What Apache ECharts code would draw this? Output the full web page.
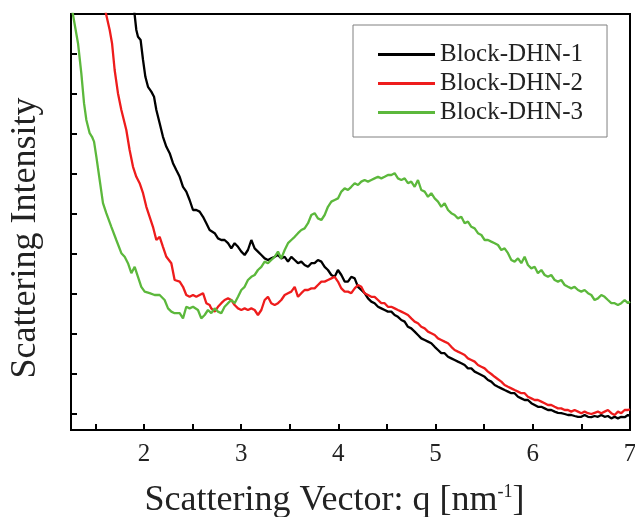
<!DOCTYPE html>
<html>
<head>
<meta charset="utf-8">
<script src="https://cdn.jsdelivr.net/npm/echarts@6/dist/echarts.min.js"></script>
<style>
  html, body { margin: 0; padding: 0; background: #fff; }
  #chart { width: 635px; height: 517px; }
</style>
</head>
<body>
<div id="chart"></div>
<script>
// Scattering vector q (nm^-1) sample positions shared by the three profiles
const qMid1 = [2.693, 2.728, 2.762, 2.796, 2.830, 2.865, 2.899, 2.933, 2.968, 3.002,
  3.036, 3.070, 3.105, 3.139, 3.173, 3.208, 3.242, 3.276, 3.310, 3.345,
  3.379, 3.413, 3.448, 3.482, 3.516, 3.551, 3.585, 3.619, 3.653, 3.688,
  3.722, 3.756, 3.790, 3.825, 3.859, 3.893, 3.928, 3.962, 3.996, 4.031, 4.065];
const qMid2 = [4.099, 4.133, 4.168, 4.202, 4.236, 4.270, 4.305, 4.339, 4.373, 4.408,
  4.442, 4.476, 4.510, 4.545, 4.579, 4.613, 4.648, 4.682, 4.716, 4.750,
  4.785, 4.819, 4.853, 4.888, 4.922, 4.956, 4.991, 5.025, 5.059, 5.093,
  5.128, 5.162, 5.196, 5.230, 5.265, 5.299, 5.333, 5.368, 5.402, 5.436, 5.471, 5.505];
const qTail = [5.539, 5.573, 5.608, 5.642, 5.676, 5.710, 5.745, 5.779, 5.813, 5.848,
  5.882, 5.916, 5.950, 5.985, 6.019, 6.053, 6.088, 6.122, 6.156, 6.190,
  6.225, 6.259, 6.293, 6.328, 6.362, 6.396, 6.430, 6.465, 6.499, 6.533,
  6.568, 6.602, 6.636, 6.670, 6.705, 6.739, 6.773, 6.808, 6.842, 6.876,
  6.910, 6.945, 6.979, 7.0];

// Block-DHN-1
const qHead1 = [1.895, 1.905, 1.922, 1.939, 1.966, 1.991, 2.015, 2.042, 2.076, 2.104,
  2.128, 2.162, 2.196, 2.231, 2.265, 2.299, 2.333, 2.368, 2.402, 2.436,
  2.470, 2.505, 2.539, 2.573, 2.608, 2.642, 2.676];
const iHead1 = [10.2, 9.975, 9.60, 9.43, 9.35, 8.85, 8.43, 8.18, 8.06, 7.93,
  7.60, 7.27, 6.93, 6.68, 6.52, 6.27, 6.10, 5.93, 5.68, 5.56,
  5.35, 5.10, 5.10, 5.06, 4.93, 4.77, 4.60];
const iMid1a = [4.58, 4.52, 4.39, 4.35, 4.35, 4.27, 4.14, 4.27, 4.18, 4.06,
  3.975, 4.10, 4.35, 4.14, 4.06, 3.975, 3.89, 3.85, 3.89, 3.93,
  3.975, 3.89, 3.93, 3.81, 3.93, 3.85, 3.77, 3.81, 3.725, 3.68,
  3.77, 3.77, 3.85, 3.81, 3.68, 3.60, 3.475, 3.43, 3.60, 3.475, 3.31];
const iMid2a = [3.31, 3.43, 3.39, 3.18, 3.10, 3.02, 2.89, 2.81, 2.77, 2.68,
  2.64, 2.60, 2.56, 2.56, 2.475, 2.43, 2.35, 2.31, 2.18, 2.14,
  2.06, 1.975, 1.89, 1.85, 1.81, 1.77, 1.68, 1.60, 1.52, 1.52,
  1.43, 1.39, 1.35, 1.31, 1.27, 1.225, 1.14, 1.14, 1.06, 1.02, 0.975, 0.93];
const iTailA = [0.85, 0.81, 0.725, 0.68, 0.64, 0.60, 0.56, 0.52, 0.52, 0.43,
  0.39, 0.35, 0.35, 0.27, 0.225, 0.18, 0.18, 0.14, 0.10, 0.10,
  0.06, 0.03, 0.02, 0, -0.025, -0.025, -0.05, -0.07, -0.07, -0.025,
  -0.07, -0.08, -0.05, -0.07, -0.025, -0.07, -0.05, -0.11, -0.07, -0.11,
  -0.07, -0.08, -0.025, -0.05];

// Block-DHN-2
const qHead2 = [1.59, 1.613, 1.648, 1.672, 1.699, 1.733, 1.768, 1.819, 1.853, 1.888,
  1.922, 1.956, 1.991, 2.025, 2.059, 2.093, 2.128, 2.162, 2.196, 2.231,
  2.282, 2.316, 2.368, 2.402, 2.436, 2.470, 2.505, 2.539, 2.573, 2.608, 2.642, 2.676];
const iHead2 = [10.22, 9.975, 9.60, 9.27, 8.60, 8.02, 7.60, 7.10, 6.60, 6.18,
  5.93, 5.77, 5.52, 5.18, 4.93, 4.68, 4.35, 4.43, 4.18, 3.93,
  3.77, 3.35, 3.31, 3.18, 2.975, 2.93, 2.975, 2.93, 2.975, 3.02, 2.77, 2.725];
const iMid1b = [2.64, 2.56, 2.68, 2.77, 2.85, 2.89, 2.85, 2.725, 2.64, 2.60,
  2.64, 2.60, 2.64, 2.60, 2.475, 2.60, 2.85, 2.93, 2.77, 2.725,
  2.77, 2.85, 2.975, 3.02, 3.06, 3.18, 2.93, 3.02, 3.10, 3.10,
  3.14, 3.14, 3.225, 3.31, 3.31, 3.35, 3.39, 3.43, 3.31, 3.14, 3.06];
const iMid2b = [3.06, 3.02, 3.14, 3.225, 3.18, 3.02, 2.975, 2.93, 2.93, 2.85,
  2.77, 2.77, 2.68, 2.68, 2.64, 2.60, 2.56, 2.52, 2.475, 2.39,
  2.31, 2.27, 2.18, 2.14, 2.06, 2.02, 1.975, 1.89, 1.85, 1.81,
  1.77, 1.68, 1.60, 1.56, 1.52, 1.475, 1.39, 1.35, 1.31, 1.225, 1.18, 1.14];
const iTailB = [1.06, 1.0, 0.93, 0.87, 0.81, 0.725, 0.68, 0.64, 0.60, 0.56,
  0.52, 0.52, 0.43, 0.39, 0.35, 0.35, 0.31, 0.27, 0.225, 0.225,
  0.18, 0.14, 0.14, 0.10, 0.10, 0.06, 0.10, 0.06, 0.02, 0.06,
  0.02, 0, 0.03, 0.06, 0.02, 0.06, 0.10, 0.02, -0.025, 0.06,
  0.02, 0.10, 0.10, 0.12];

// Block-DHN-3
const qHead3 = [1.25, 1.271, 1.322, 1.356, 1.384, 1.408, 1.442, 1.466, 1.487, 1.511,
  1.545, 1.579, 1.613, 1.665, 1.716, 1.768, 1.802, 1.836, 1.871, 1.905,
  1.939, 1.973, 2.008, 2.059, 2.110, 2.162, 2.213, 2.248, 2.282, 2.316,
  2.368, 2.402, 2.436, 2.470, 2.505, 2.556, 2.590, 2.625, 2.659];
const iHead3 = [10.27, 9.975, 9.27, 8.52, 7.77, 7.35, 7.02, 6.93, 6.81, 6.43,
  5.85, 5.27, 5.02, 4.68, 4.35, 4.02, 3.93, 3.77, 3.52, 3.68,
  3.43, 3.18, 3.06, 3.02, 2.975, 2.975, 2.85, 2.64, 2.56, 2.52,
  2.52, 2.39, 2.68, 2.64, 2.68, 2.60, 2.39, 2.475, 2.60];
const iMid1c = [2.52, 2.64, 2.56, 2.52, 2.68, 2.77, 2.85, 2.77, 2.93, 3.10,
  3.18, 3.35, 3.43, 3.475, 3.60, 3.68, 3.81, 3.77, 3.85, 3.93,
  4.06, 3.89, 4.10, 4.27, 4.35, 4.43, 4.52, 4.60, 4.64, 4.77,
  4.975, 5.02, 4.89, 4.85, 4.975, 5.18, 5.31, 5.35, 5.39, 5.56, 5.64];
const iMid2c = [5.60, 5.68, 5.77, 5.725, 5.81, 5.85, 5.81, 5.85, 5.89, 5.93,
  5.89, 5.93, 5.975, 5.975, 6.02, 5.89, 5.85, 5.89, 5.77, 5.81,
  5.68, 5.85, 5.60, 5.56, 5.43, 5.52, 5.39, 5.31, 5.18, 5.27,
  5.10, 5.02, 4.975, 4.89, 4.93, 4.77, 4.81, 4.68, 4.64, 4.52, 4.475, 4.35];
const iTailC = [4.35, 4.31, 4.27, 4.225, 4.10, 4.14, 4.02, 3.85, 3.81, 3.89,
  3.77, 3.93, 3.725, 3.64, 3.68, 3.52, 3.60, 3.475, 3.43, 3.475,
  3.35, 3.31, 3.35, 3.225, 3.18, 3.14, 3.18, 3.10, 3.06, 3.10,
  3.02, 2.975, 2.85, 2.89, 2.975, 2.93, 2.85, 2.77, 2.77, 2.725,
  2.77, 2.85, 2.77, 2.81];

const seriesNames = ['Block-DHN-1', 'Block-DHN-2', 'Block-DHN-3'];
const seriesColors = ['#000000', '#ee1c1c', '#5cb83c'];
const xTickLabels = [2, 3, 4, 5, 6, 7];
const xTicks = [1.5, 2, 2.5, 3, 3.5, 4, 4.5, 5, 5.5, 6, 6.5, 7];
const yTicks = [0, 1, 2, 3, 4, 5, 6, 7, 8, 9];

function pairs(qs, is) {
  return qs.map((q, k) => [q, is[k]]);
}

const profiles = [
  pairs(qHead1.concat(qMid1, qMid2, qTail), iHead1.concat(iMid1a, iMid2a, iTailA)),
  pairs(qHead2.concat(qMid1, qMid2, qTail), iHead2.concat(iMid1b, iMid2b, iTailB)),
  pairs(qHead3.concat(qMid1, qMid2, qTail), iHead3.concat(iMid1c, iMid2c, iTailC))
];

const serif = '"Liberation Serif", "Times New Roman", serif';
const chart = echarts.init(document.getElementById('chart'), null, { renderer: 'canvas' });

chart.setOption({
  backgroundColor: '#ffffff',
  animation: false,
  grid: {
    left: 71, right: 5, top: 14, bottom: 87,
    outerBoundsMode: 'none',
    containLabel: false,
    show: true, borderColor: '#000', borderWidth: 2, backgroundColor: 'transparent'
  },
  legend: {
    orient: 'vertical',
    left: 353, top: 25,
    padding: [15, 24, 10, 25],
    itemGap: 0,
    icon: 'rect',
    itemWidth: 57, itemHeight: 3,
    borderColor: '#808080', borderWidth: 1,
    textStyle: { fontFamily: serif, fontSize: 25, color: '#222', lineHeight: 29 },
    data: seriesNames
  },
  xAxis: {
    type: 'value',
    min: 1.25, max: 7,
    axisLine: { onZero: false, lineStyle: { color: '#000', width: 2 } },
    axisTick: { inside: true, length: 6, lineStyle: { color: '#000', width: 2 }, customValues: xTicks },
    axisLabel: { customValues: xTickLabels, fontFamily: serif, fontSize: 25, color: '#222', margin: 12 },
    splitLine: { show: false },
    name: '{a|Scattering Vector: q [nm}{s|-1}{a|]}',
    nameLocation: 'middle',
    nameGap: 53,
    nameTextStyle: {
      padding: [0, 32, 0, 0],
      rich: {
        a: { fontFamily: serif, fontSize: 36, color: '#222' },
        s: { fontFamily: serif, fontSize: 18, color: '#222', verticalAlign: 'top', padding: [0, 0, 16, 0] }
      }
    }
  },
  yAxis: {
    type: 'value',
    min: -0.4, max: 10,
    axisLine: { onZero: false, lineStyle: { color: '#000', width: 2 } },
    axisTick: { inside: true, length: 6, lineStyle: { color: '#000', width: 2 }, customValues: yTicks },
    axisLabel: { show: false },
    splitLine: { show: false },
    name: 'Scattering Intensity',
    nameLocation: 'middle',
    nameGap: 27,
    nameTextStyle: { fontFamily: serif, fontSize: 36, color: '#222', padding: [0, 32, 0, 0] }
  },
  series: profiles.map((data, k) => ({
    name: seriesNames[k],
    type: 'line',
    data: data,
    symbol: 'none',
    clip: true,
    lineStyle: { color: seriesColors[k], width: 2.3 },
    itemStyle: { color: seriesColors[k] }
  }))
});
</script>
</body>
</html>
